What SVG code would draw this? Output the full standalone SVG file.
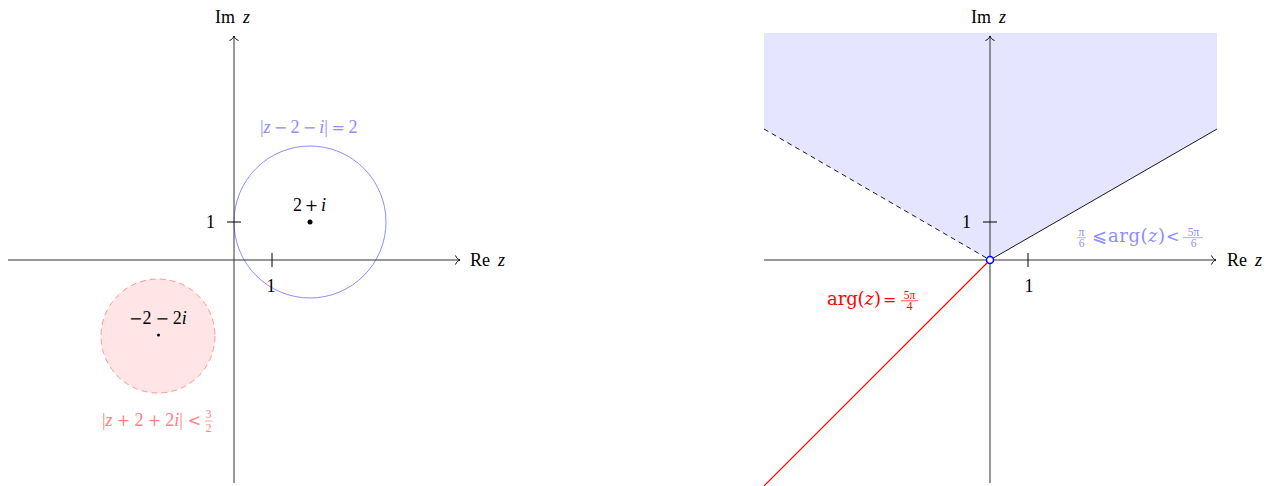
<svg xmlns="http://www.w3.org/2000/svg" width="1274" height="486" viewBox="0 0 1274 486">
<style>
text{font-family:"Liberation Serif","Times New Roman","DejaVu Serif",serif;font-size:18px;fill:#000}
.it{font-style:italic}
.op{font-family:"DejaVu Serif","Liberation Serif",serif;font-size:16px;font-style:normal}
.dv{font-family:"DejaVu Serif","Liberation Serif",serif}
.fr{font-size:11.5px}
.axis{stroke:#333;stroke-width:1;fill:none}
.tick{stroke:#000;stroke-width:1}
.blue{fill:#8c8cff}
.pink{fill:#ff8080}
.red{fill:#ff0000}
</style>
<defs>
<marker id="to" markerWidth="12" markerHeight="12" refX="0" refY="0" viewBox="-6 -6 12 12" orient="auto" markerUnits="userSpaceOnUse" overflow="visible">
<path d="M-4.5,-4.5 C-3.5,-2 -1.8,-0.5 0,0 C-1.8,0.5 -3.5,2 -4.5,4.5" fill="none" stroke="#000" stroke-width="1"/>
</marker>
</defs>
<!-- Left plot regions -->
<g id="left-region">
<circle id="pink-disk" cx="158" cy="336" r="57" fill="#ffe5e5" stroke="#ff8080" stroke-width="0.8" stroke-dasharray="6,4"/>
<circle id="blue-circle" cx="310" cy="222" r="76" fill="none" stroke="#8080ff" stroke-width="0.9"/>
</g>
<!-- Right plot region -->
<g id="right-region">
<polygon points="990,260 1217,129 1217,33 764,33 764,129" fill="#e5e5ff"/>
<path d="M990,260 L1217,129" fill="none" stroke="#000" stroke-width="0.9"/>
<path d="M764,129 L990,260" fill="none" stroke="#000" stroke-width="0.9" stroke-dasharray="5,4"/>
</g>
<g id="connectors">
<line class="axis" x1="8" y1="260" x2="460" y2="260" marker-end="url(#to)"/>
<line class="axis" x1="234" y1="483" x2="234" y2="36" marker-end="url(#to)"/>
<line class="tick" x1="227" y1="222" x2="241" y2="222"/>
<line class="tick" x1="272" y1="253" x2="272" y2="267"/>
<line class="axis" x1="764" y1="260" x2="1216" y2="260" marker-end="url(#to)"/>
<line class="axis" x1="990" y1="483" x2="990" y2="36" marker-end="url(#to)"/>
<line class="tick" x1="983" y1="222" x2="997" y2="222"/>
<line class="tick" x1="1028" y1="253" x2="1028" y2="267"/>
</g>
<g id="red-ray">
<path d="M990,260 L764,486" fill="none" stroke="#ff0000" stroke-width="1.1"/>
</g>
<g id="left-labels">
<text x="215" y="23">Im<tspan class="it" x="243">z</tspan></text>
<text x="470" y="266">Re<tspan class="it" x="498">z</tspan></text>
<text x="215" y="228" text-anchor="end">1</text>
<text x="271" y="292" text-anchor="middle">1</text>
</g>
<g id="node-2pi">
<circle cx="310" cy="222" r="2.5" fill="#000"/>
<text x="293" y="211">2<tspan class="op" dx="2.8">+</tspan><tspan class="it" dx="2.8">i</tspan></text>
</g>
<g id="node-m2m2i">
<circle cx="158.5" cy="335" r="1.5" fill="#000"/>
<text x="129" y="324"><tspan class="op">−</tspan>2<tspan class="op" dx="4">−</tspan><tspan dx="4">2</tspan><tspan class="it">i</tspan></text>
</g>
<g id="label-blue-circle">
<text class="blue" x="260" y="133">|<tspan class="it">z</tspan><tspan class="op" dx="3.2">−</tspan><tspan dx="3.2">2</tspan><tspan class="op" dx="3.2">−</tspan><tspan class="it" dx="3.2">i</tspan>|<tspan class="op" dx="3.6">=</tspan><tspan dx="3.6">2</tspan></text>
</g>
<g id="label-pink-disk">
<text class="pink" x="102" y="425.5">|<tspan class="it">z</tspan><tspan class="op" dx="4.2">+</tspan><tspan dx="4.2">2</tspan><tspan class="op" dx="4.2">+</tspan><tspan dx="4.2">2</tspan><tspan class="it">i</tspan>|<tspan class="op" dx="5">&lt;</tspan></text>
<text class="pink fr" x="208.5" y="418" text-anchor="middle">3</text>
<line x1="205" y1="421" x2="212.5" y2="421" stroke="#ff8080" stroke-width="0.7"/>
<text class="pink fr" x="208.5" y="432" text-anchor="middle">2</text>
</g>
<g id="right-labels">
<text x="971" y="23">Im<tspan class="it" x="999">z</tspan></text>
<text x="1227" y="266">Re<tspan class="it" x="1255">z</tspan></text>
<text x="971" y="228" text-anchor="end">1</text>
<text x="1029" y="292" text-anchor="middle">1</text>
</g>
<g id="origin-node">
<circle cx="990" cy="260" r="3.5" fill="#fff" stroke="#0000ff" stroke-width="1.5"/>
</g>
<g id="label-sector">
<text class="blue fr" x="1081.5" y="235.5" text-anchor="middle">π</text>
<line x1="1077" y1="237.7" x2="1086" y2="237.7" stroke="#8c8cff" stroke-width="0.7"/>
<text class="blue fr" x="1081.5" y="247" text-anchor="middle">6</text>
<text class="blue" x="1092" y="242">⩽</text>
<text class="blue dv" x="1108" y="242" font-size="17" textLength="57" lengthAdjust="spacing">arg(<tspan class="it">z</tspan>)</text>
<text class="blue op" x="1166" y="242">&lt;</text>
<text class="blue fr" x="1193.5" y="235.5" text-anchor="middle">5π</text>
<line x1="1183" y1="237.7" x2="1203" y2="237.7" stroke="#8c8cff" stroke-width="0.7"/>
<text class="blue fr" x="1193.5" y="247" text-anchor="middle">6</text>
</g>
<g id="label-ray">
<text class="red dv" x="827" y="305" font-size="17" textLength="54" lengthAdjust="spacing">arg(<tspan class="it">z</tspan>)</text>
<text class="red op" x="883" y="305">=</text>
<text class="red fr" x="909.5" y="298.5" text-anchor="middle">5π</text>
<line x1="901" y1="300.8" x2="918" y2="300.8" stroke="#ff0000" stroke-width="0.7"/>
<text class="red fr" x="909.5" y="310" text-anchor="middle">4</text>
</g>
</svg>
